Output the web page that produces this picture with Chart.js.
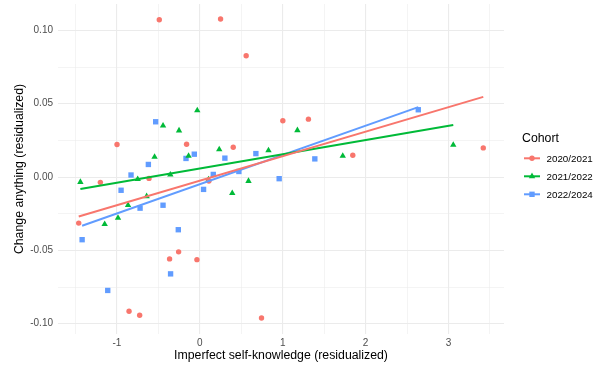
<!DOCTYPE html>
<html>
<head>
<meta charset="utf-8">
<script src="https://cdn.jsdelivr.net/npm/chart.js@4"></script>
<style>
html,body{margin:0;padding:0;background:#fff;}
#wrap{position:relative;width:596px;height:367px;}
</style>
</head>
<body>
<div id="wrap"><canvas id="c" width="596" height="367"></canvas></div>
<script>
// ---- data ----
const cohorts = ["2020/2021", "2021/2022", "2022/2024"];
const xTickLabels = ["-1", "0", "1", "2", "3"];
const yTickLabels = ["-0.10", "-0.05", "0.00", "0.05", "0.10"];

const x2020 = [-0.488, 0.251, 0.56, -0.998, -0.159, 0.404, 1.002, 1.311, 1.846, 3.42,
               -1.199, -0.612, 0.11, -1.46, -0.364, -0.255, -0.034, -0.853, -0.725, 0.745];
const y2020 = [0.1073, 0.1078, 0.0827, 0.0222, 0.0224, 0.0203, 0.0384, 0.0395, 0.0149, 0.0199,
               -0.0036, -0.0009, -0.0027, -0.0314, -0.0558, -0.051, -0.0563, -0.0915, -0.0942, -0.0961];

const x2021 = [-0.03, -0.443, -0.25, -0.545, -0.135, 0.235, 1.178, 0.829, 1.725, 3.058,
               -1.44, -0.749, -0.355, 0.106, 0.588, 0.392, -0.865, -0.641, -1.147, -0.986];
const y2021 = [0.0454, 0.035, 0.0317, 0.0138, 0.0144, 0.0188, 0.0319, 0.0181, 0.0144, 0.0219,
               -0.0034, -0.0014, 0.0016, -0.0016, -0.0027, -0.011, -0.0192, -0.0131, -0.0321, -0.0278];

const x2022 = [-0.532, -0.62, -0.166, -0.066, 0.303, 0.677, 2.636, 1.388, -0.829, -0.949,
               -0.72, -0.443, -0.259, -0.352, -1.11, -1.419, 0.046, 0.163, 0.472, 0.958];
const y2022 = [0.0377, 0.0086, 0.0127, 0.0156, 0.0129, 0.016, 0.0459, 0.0124, 0.0014, -0.009,
               -0.0212, -0.0192, -0.0359, -0.066, -0.0773, -0.0427, -0.0084, 0.0018, 0.0038, -0.0011];

// fitted (linear) trend lines per cohort, end values
const fitX2020 = [-1.46, 3.42],  fitY2020 = [-0.0269, 0.0547];
const fitX2021 = [-1.44, 3.058], fitY2021 = [-0.0081, 0.0355];
const fitX2022 = [-1.419, 2.636], fitY2022 = [-0.0332, 0.0477];

const colors = ["#F8766D", "#00BA38", "#619CFF"];
const shapes = ["circle", "triangle", "rect"];
const radii = [2.7, 3.7, 3.8];

// ---- helpers ----
function pts(xs, ys){ return xs.map((x,i)=>({x:x, y:ys[i]})); }
const xs = [x2020, x2021, x2022], ys = [y2020, y2021, y2022];
const fxs = [fitX2020, fitX2021, fitX2022], fys = [fitY2020, fitY2021, fitY2022];

const datasets = [];
for(let k=0;k<3;k++){
  datasets.push({
    type:'line', label: cohorts[k]+' fit', data: pts(fxs[k], fys[k]),
    borderColor: colors[k], borderWidth: 2, pointRadius: 0, fill:false, order: 0
  });
}
for(let k=0;k<3;k++){
  datasets.push({
    type:'scatter', label: cohorts[k], data: pts(xs[k], ys[k]),
    backgroundColor: colors[k], borderColor: colors[k], borderWidth: 0,
    pointStyle: shapes[k], pointRadius: radii[k], order: 1
  });
}

const FONT = "'Liberation Sans', Arial, sans-serif";

// custom legend drawn on the canvas (line + marker keys like ggplot)
const legendPlugin = {
  id:'ggLegend',
  afterDraw(chart){
    const ctx = chart.ctx;
    ctx.save();
    ctx.fillStyle = '#000';
    ctx.font = "12.3px " + FONT;
    ctx.textBaseline = 'middle';
    ctx.textAlign = 'left';
    ctx.fillText("Cohort", 522, 138.5);
    for(let k=0;k<3;k++){
      const cy = 158.3 + k*18;
      ctx.strokeStyle = colors[k];
      ctx.lineWidth = 2;
      ctx.beginPath(); ctx.moveTo(524, cy); ctx.lineTo(540, cy); ctx.stroke();
      ctx.fillStyle = colors[k];
      Chart.helpers.drawPoint(ctx, {pointStyle: shapes[k], radius: radii[k], rotation:0, borderWidth:0}, 532, cy);
      ctx.fillStyle = '#000';
      ctx.font = "9.8px " + FONT;
      ctx.fillText(cohorts[k], 546.5, cy+0.5);
    }
    ctx.restore();
  }
};

function makeTicks(step){
  return function(scale){
    const out = [];
    const start = Math.ceil(scale.min/step - 1e-9), end = Math.floor(scale.max/step + 1e-9);
    for(let i=start;i<=end;i++){ out.push({value: Math.round(i*step*10000)/10000}); }
    scale.ticks = out;
  };
}
function isMajor(v, major){ return Math.abs(v/major - Math.round(v/major)) < 1e-6; }

new Chart(document.getElementById('c'), {
  data: { datasets },
  options: {
    responsive:false, animation:false,
    layout:{ padding:{ top:2, right:92, left:0, bottom:0 } },
    plugins:{ legend:{display:false}, tooltip:{enabled:false} },
    scales:{
      x:{
        type:'linear', min:-1.71, max:3.67,
        afterBuildTicks: makeTicks(0.5),
        ticks:{ autoSkip:false, maxRotation:0, padding:3,
          color:'#4d4d4d', font:{family:FONT, size:10},
          callback:(v)=> isMajor(v,1) ? xTickLabels[xTickLabels.indexOf(String(Math.round(v)))] : '' },
        grid:{ color:'#ebebeb', drawTicks:false,
          lineWidth:(c)=> isMajor(c.tick.value,1) ? 1.1 : 0.55 },
        border:{ display:false },
        title:{ display:true, text:'Imperfect self-knowledge (residualized)', color:'#000',
          font:{family:FONT, size:12.3}, padding:{top:1, bottom:4.5} },
        afterFit:(s)=>{ s.height = 33; s.paddingLeft = 0; s.paddingRight = 0; }
      },
      y:{
        type:'linear', min:-0.107, max:0.118,
        afterBuildTicks: makeTicks(0.025),
        ticks:{ autoSkip:false, padding:5,
          color:'#4d4d4d', font:{family:FONT, size:10},
          callback:(v)=>{ if(!isMajor(v,0.05)) return ''; const s = v.toFixed(2);
            return yTickLabels.includes(s) ? s : (s==='-0.00' ? '0.00' : ''); } },
        grid:{ color:'#ebebeb', drawTicks:false,
          lineWidth:(c)=> isMajor(c.tick.value,0.05) ? 1.1 : 0.55 },
        border:{ display:false },
        title:{ display:true, text:'Change anything (residualized)', color:'#000',
          font:{family:FONT, size:12.3}, padding:{top:12.5, bottom:0} },
        afterFit:(s)=>{ s.width = 58; s.paddingTop = 0; s.paddingBottom = 0; }
      }
    }
  },
  plugins:[legendPlugin]
});
</script>
</body>
</html>
